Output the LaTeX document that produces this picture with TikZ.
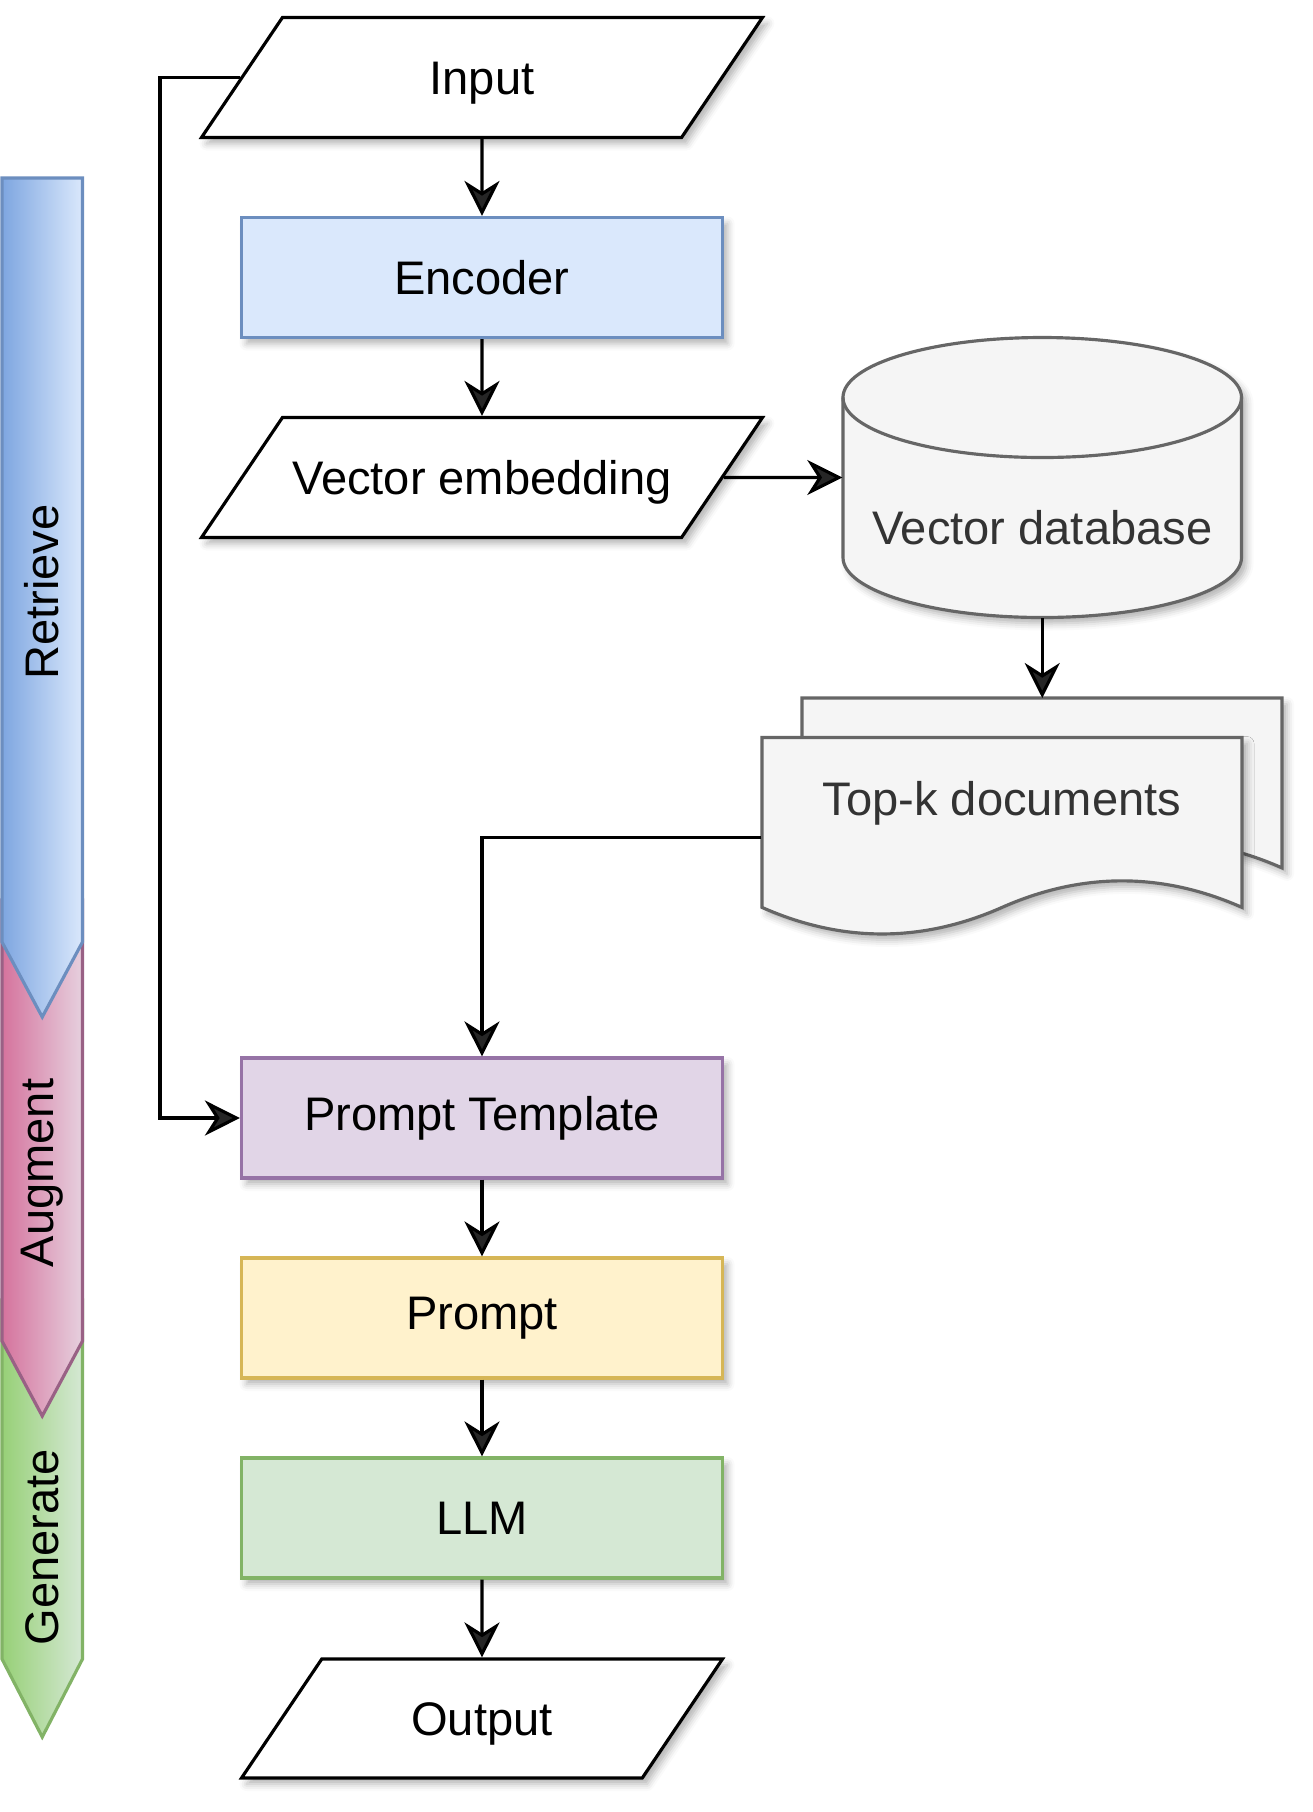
\documentclass[tikz,border=0pt]{standalone}
\usepackage{fontspec}
\setmainfont{Liberation Sans}
\usepackage{xcolor}
\usepackage{tikz}
\usetikzlibrary{calc}
\usetikzlibrary{shapes.geometric,arrows.meta}
\usetikzlibrary{shadows.blur}

\definecolor{encFill}{HTML}{DAE8FC}
\definecolor{encLine}{HTML}{6C8EBF}
\definecolor{encDark}{HTML}{7EA6E0}
\definecolor{ptFill}{HTML}{E1D5E7}
\definecolor{ptLine}{HTML}{9673A6}
\definecolor{augFill}{HTML}{E6D0DE}
\definecolor{augDark}{HTML}{D5739D}
\definecolor{augLine}{HTML}{996185}
\definecolor{prFill}{HTML}{FFF2CC}
\definecolor{prLine}{HTML}{D6B656}
\definecolor{llmFill}{HTML}{D5E8D4}
\definecolor{llmLine}{HTML}{82B366}
\definecolor{genDark}{HTML}{97D077}
\definecolor{dbFill}{HTML}{F5F5F5}
\definecolor{dbLine}{HTML}{666666}
\definecolor{dbText}{HTML}{333333}

\tikzset{
    txt/.style={font=\fontsize{13.4}{16}\selectfont},
    shd/.style={blur shadow={shadow xshift=0.05cm, shadow yshift=-0.06cm, shadow blur radius=0.07cm, shadow opacity=30}},
    io/.style={trapezium, trapezium left angle=56, trapezium right angle=124, trapezium stretches body,
        draw=black, fill=white, line width=0.9pt, text height=0.34cm, text depth=0cm,
        inner xsep=0pt, inner ysep=0.43cm, txt, shd},
    box/.style={rectangle, draw, line width=0.9pt, minimum width=4.81cm, minimum height=1.2cm, txt, shd},
    grayshape/.style={draw=dbLine, fill=dbFill, line width=0.9pt, shd},
    graytxt/.style={txt, text=dbText},
    link/.style={line width=0.9pt, -{Stealth[length=0.35cm, width=0.35cm, inset=0.11cm]}},
    band/.style={line width=0.9pt},
}

\begin{document}
\begin{tikzpicture}
        \useasboundingbox (0,0) rectangle (13.12,-18.12);
        %GRID
        %\draw[lightgray] (0,0) grid (13,-18);
        %BANDS
        \draw[band, draw=llmLine, left color=genDark, right color=llmFill] (0.02,-13.0) -- (0.825,-13.0) -- (0.825,-16.59) -- (0.4225,-17.37) -- (0.02,-16.59) -- cycle;
        \draw[band, draw=augLine, left color=augDark, right color=augFill] (0.02,-9.0) -- (0.825,-9.0) -- (0.825,-13.41) -- (0.4225,-14.16) -- (0.02,-13.41) -- cycle;
        \draw[band, draw=encLine, left color=encDark, right color=encFill] (0.02,-1.78) -- (0.825,-1.78) -- (0.825,-9.42) -- (0.4225,-10.17) -- (0.02,-9.42) -- cycle;
        \node[txt, rotate=90] (retrieve) at (0.42,-5.92) {Retrieve};
        \node[txt, rotate=90] (augment) at (0.42,-11.73) {Augment};
        \node[txt, rotate=90] (generate) at (0.42,-15.47) {Generate};
        %INPUT
        \node[io, minimum width=5.61cm] (input) at (4.82,-0.775) {Input};
        \node[box, draw=encLine, fill=encFill] (enc) at (4.82,-2.775) {Encoder};
        \node[io, minimum width=5.61cm] (ve) at (4.82,-4.775) {Vector embedding};
        %DATABASE
        \draw[grayshape] (8.43,-3.975) -- (8.43,-5.575) arc (180:360:1.9925 and 0.6) -- (12.415,-3.975) arc (0:180:1.9925 and 0.6) -- cycle;
        \draw[draw=dbLine, line width=0.9pt] (8.43,-3.975) arc (180:360:1.9925 and 0.6);
        \node[minimum width=3.985cm, minimum height=2.8cm, label={[graytxt, yshift=-0.5cm]center:Vector database}] (vdb) at (10.4225,-4.775) {};
        %DOCUMENTS
        \foreach \dx/\dy in {0.40/0.395, 0/0}{
            \draw[grayshape, shift={(7.62+\dx,-7.375+\dy)}] (0,0) -- (4.8,0) -- (4.8,-1.699)
                .. controls (4.0,-1.345) and (3.2,-1.345) .. (2.4,-1.699)
                .. controls (1.6,-2.053) and (0.8,-2.053) .. (0,-1.699) -- cycle;
        }
        \node[minimum width=4.8cm, minimum height=1.994cm, label={[graytxt, yshift=0.34cm]center:Top-k documents}] (topk) at (10.02,-8.372) {};
        \coordinate (docstop) at (10.4225,-6.98);
        %PIPELINE
        \node[box, draw=ptLine, fill=ptFill] (pt) at (4.82,-11.18) {Prompt Template};
        \node[box, draw=prLine, fill=prFill] (prompt) at (4.82,-13.18) {Prompt};
        \node[box, draw=llmLine, fill=llmFill] (llm) at (4.82,-15.18) {LLM};
        \node[io, minimum width=4.81cm, inner ysep=0.425cm] (out) at (4.82,-17.185) {Output};
        %ARROWS
        \draw[link] (input) -- (enc);
        \draw[link] (enc) -- (ve);
        \draw[link] (ve) -- (vdb);
        \draw[link] (vdb.south) -- (docstop);
        \draw[link] (topk.west) -| (pt.north);
        \draw[link] (input.left side) -- ++(-0.8,0) |- (pt.west);
        \draw[link] (pt) -- (prompt);
        \draw[link] (prompt) -- (llm);
        \draw[link] (llm) -- (out);
    \end{tikzpicture}
\end{document}
